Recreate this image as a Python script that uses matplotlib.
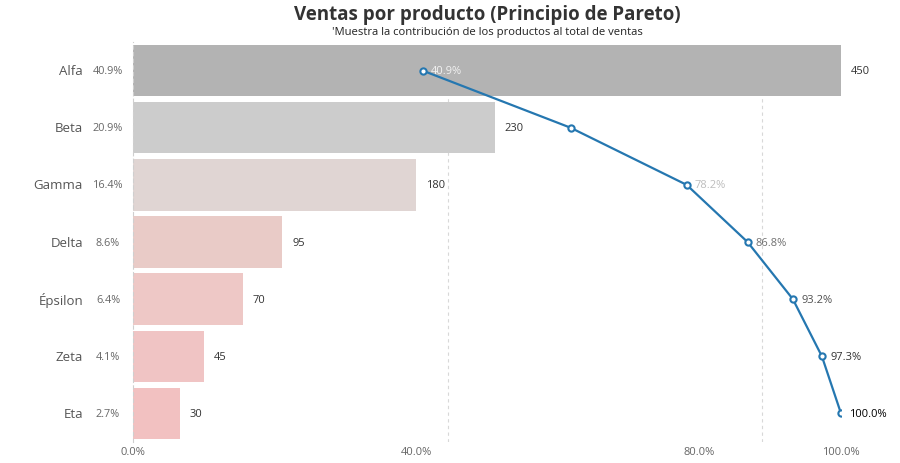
import matplotlib.pyplot as plt
from matplotlib.ticker import FixedLocator

productos = ["Alfa", "Beta", "Gamma", "Delta", "Épsilon", "Zeta", "Eta"]
ventas = [450, 230, 180, 95, 70, 45, 30]
pct = [40.9, 20.9, 16.4, 8.6, 6.4, 4.1, 2.7]
acumulado = [40.9, 61.8, 78.2, 86.8, 93.2, 97.3, 100.0]
pct_ticks = [0.0, 40.0, 80.0, 100.0]

colores_barra = ["#b3b3b3", "#cccccc", "#e0d5d3", "#e9cbc7", "#eec8c6", "#f0c4c4", "#f2c1c1"]
colores_etiqueta = ["#f2f2f2", "#ffffff", "#bdbdbd", "#707070", "#505050", "#333333", "#000000"]

plt.rcParams['font.family'] = ['Open Sans', 'DejaVu Sans']

fig = plt.figure(figsize=(9, 4.64), dpi=100)
ax = fig.add_axes([133 / 900, 1 - 443 / 464, 708 / 900, 400 / 464])

y = list(range(len(productos)))
ax.barh(y, ventas, height=0.9, color=colores_barra, zorder=2)
ax.set_xlim(0, max(ventas))
ax.set_ylim(len(productos) - 0.5, -0.5)

# valores de venta al final de cada barra
for i, v in enumerate(ventas):
    ax.annotate(str(v), (v, i), xytext=(7, 0), textcoords="offset points",
                va="center", ha="left", fontsize=8, color="#333333",
                annotation_clip=False)

# nombres y porcentajes a la izquierda
ax.set_yticks(y)
ax.set_yticklabels([])
ax.tick_params(axis="y", length=0)
for i, (nombre, p) in enumerate(zip(productos, pct)):
    ax.annotate(nombre, (0, i), xytext=(-36, 0), textcoords="offset points",
                ha="right", va="center", fontsize=9.5, color="#555555",
                annotation_clip=False)
    ax.annotate(f"{p:.1f}%", (0, i), xytext=(-18, 0), textcoords="offset points",
                ha="center", va="center", fontsize=7.8, color="#666666",
                annotation_clip=False)

ax.xaxis.set_major_locator(FixedLocator([200, 400]))
ax.set_xticklabels([])
ax.tick_params(axis="x", length=0)
ax.grid(axis="x", color="#d8d8d8", linestyle=(0, (3, 3)), linewidth=0.8, zorder=1)
for s in ["top", "right", "bottom"]:
    ax.spines[s].set_visible(False)
ax.spines["left"].set_color("#cfcfcf")
ax.spines["left"].set_linestyle((0, (3, 3)))
ax.spines["left"].set_linewidth(0.8)

# curva acumulada (Pareto)
ax2 = ax.twiny()
ax2.set_xlim(0, 100)
ax2.plot(acumulado, y, color="#2577b0", linewidth=1.6, marker="o", markersize=4.5,
         markerfacecolor="white", markeredgecolor="#2577b0", markeredgewidth=1.5,
         zorder=5)
for i, c in enumerate(acumulado):
    ax2.annotate(f"{c:.1f}%", (c, i), xytext=(6, 0), textcoords="offset points",
                 ha="left", va="center", fontsize=8, color=colores_etiqueta[i],
                 annotation_clip=False)
ax2.xaxis.set_ticks_position("bottom")
ax2.set_xticks(pct_ticks)
ax2.set_xticklabels([f"{t:.1f}%" for t in pct_ticks])
ax2.tick_params(axis="x", length=0, labelsize=8, labelcolor="#666666", pad=3)
for s in ax2.spines.values():
    s.set_visible(False)

fig.text(487 / 900, 1 - 15 / 464, "Ventas por producto (Principio de Pareto)",
         ha="center", va="center", fontsize=13.5, fontweight="bold", color="#333333")
fig.text(487 / 900, 1 - 32 / 464, "'Muestra la contribución de los productos al total de ventas",
         ha="center", va="center", fontsize=8.1, color="#222222")

fig.savefig("out.png", dpi=100)
